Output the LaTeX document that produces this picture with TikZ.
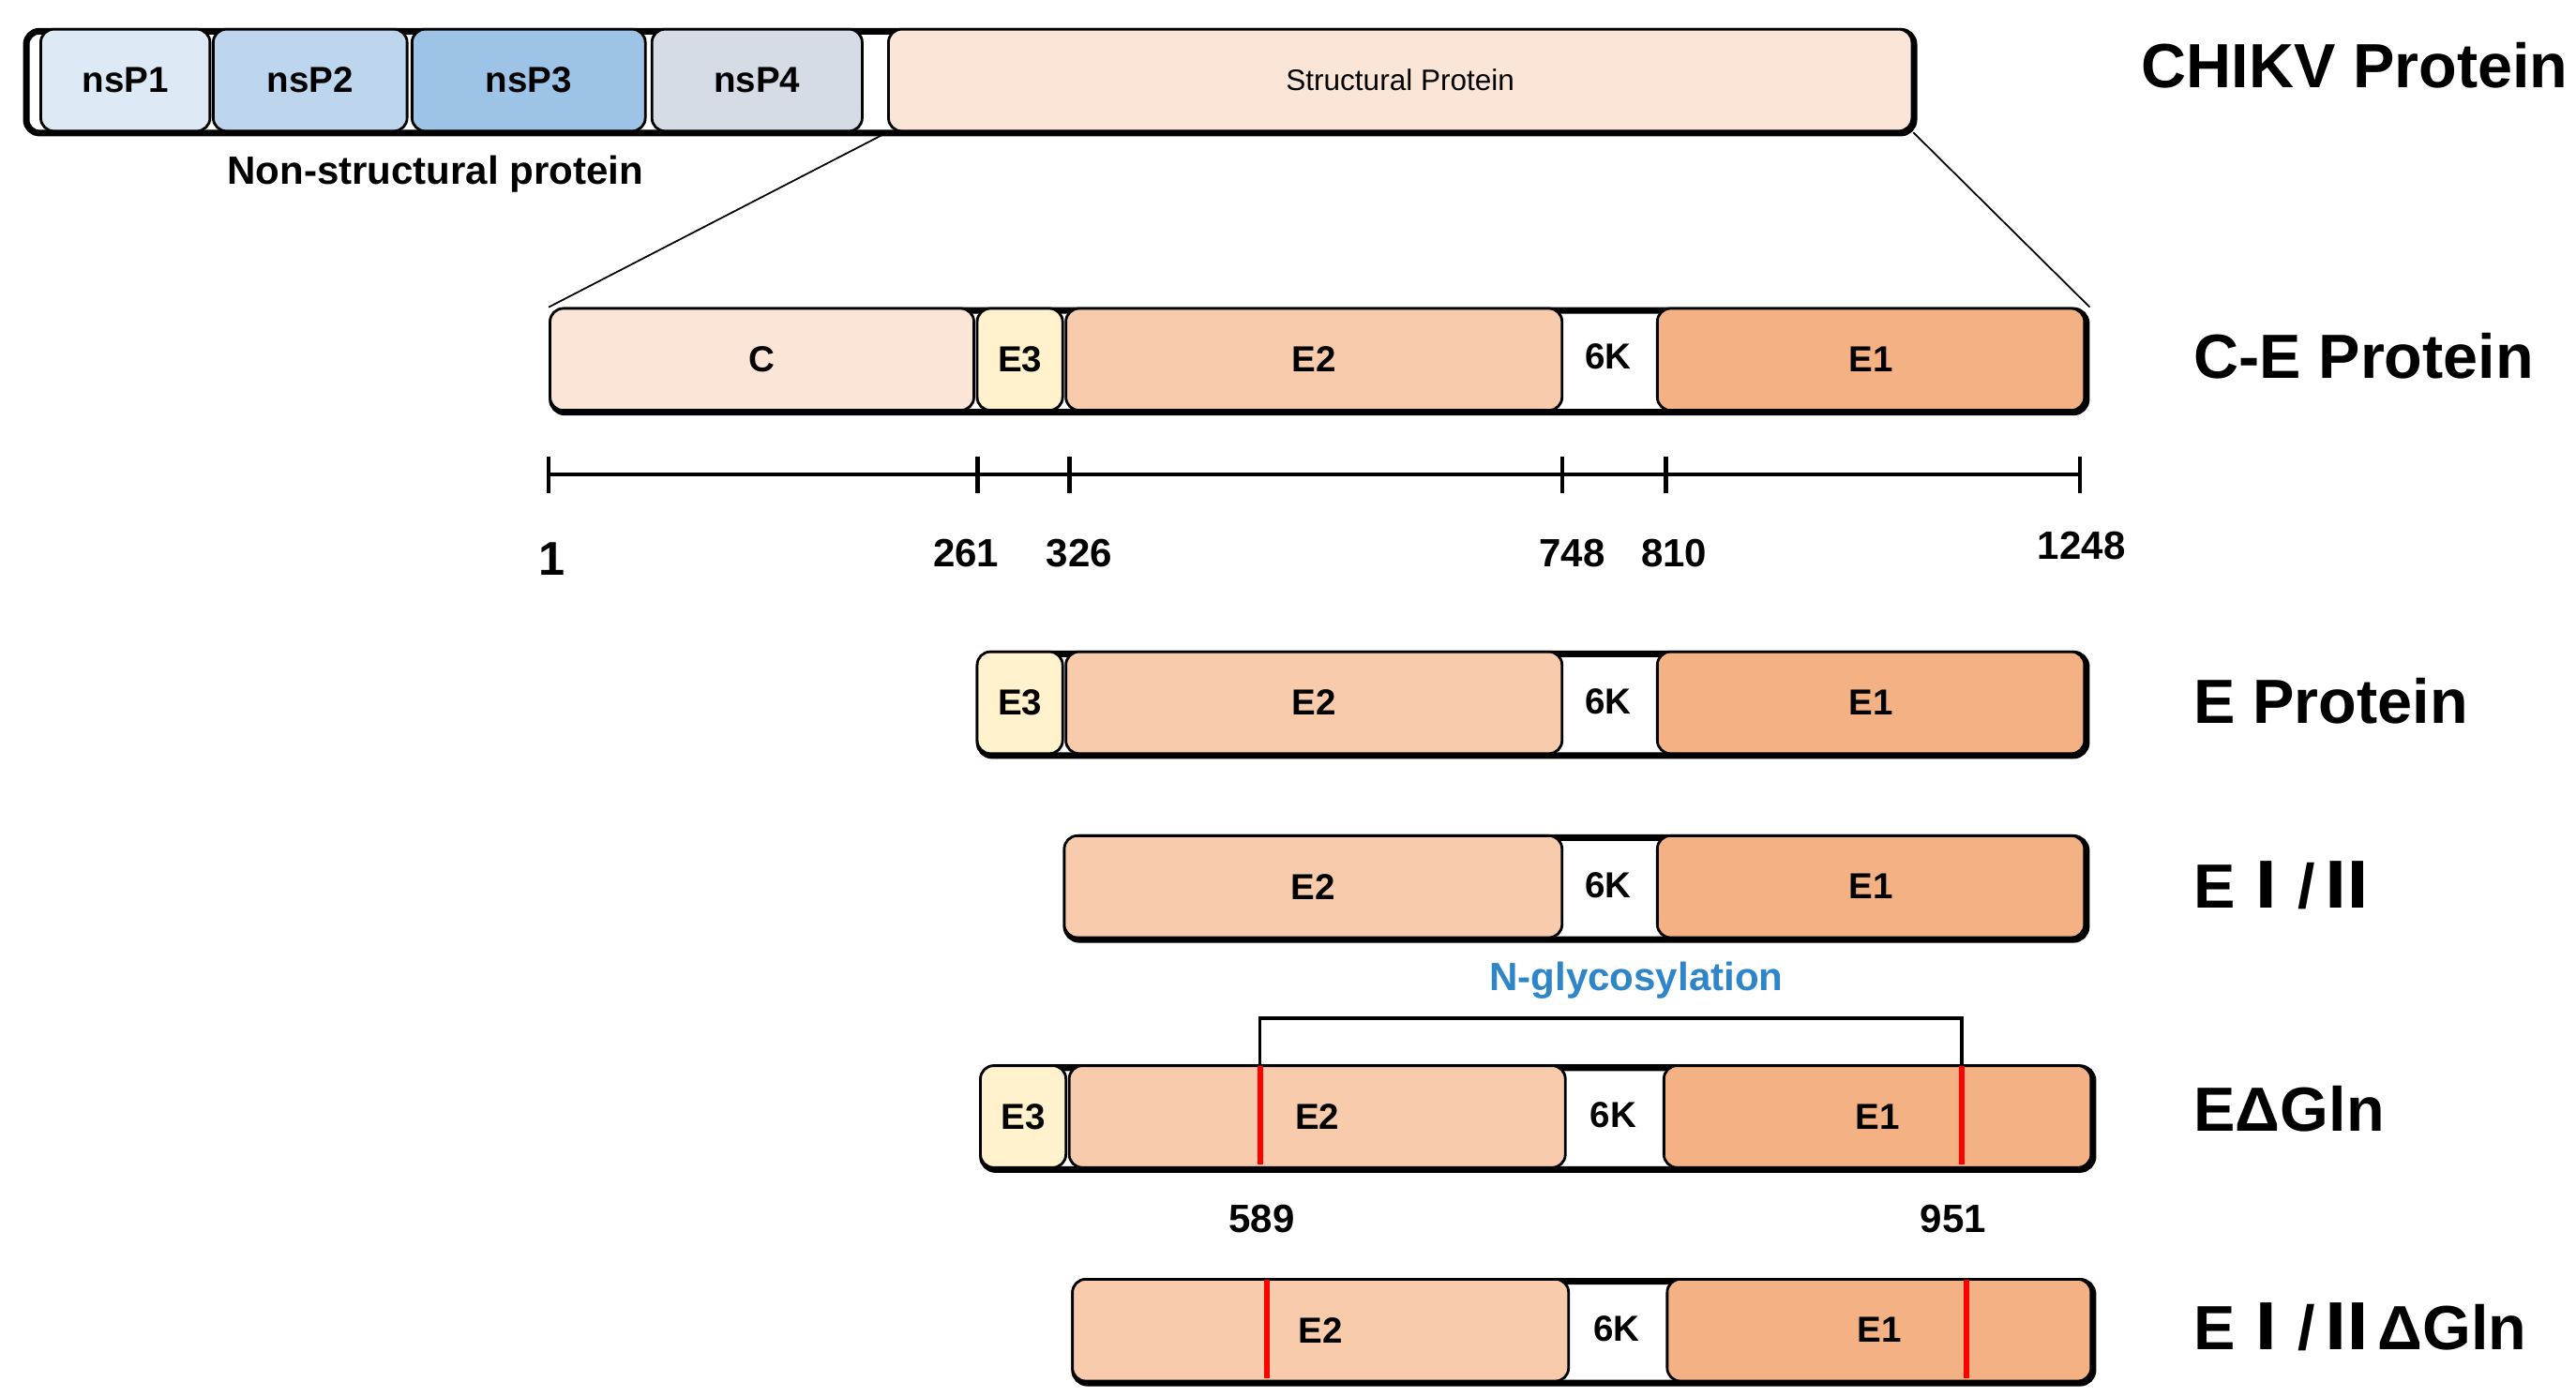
\documentclass[tikz,border=0pt]{standalone}
\usepackage{fontspec}
\setmainfont{Liberation Sans}
\newfontfamily\cjk{Noto Sans CJK KR}
\usepackage{tikz}
\usetikzlibrary{positioning}
\definecolor{nsa}{HTML}{DDEAF6}
\definecolor{nsb}{HTML}{BDD6EE}
\definecolor{nsc}{HTML}{9DC3E6}
\definecolor{nsd}{HTML}{D6DCE5}
\definecolor{cpe}{HTML}{FBE5D6}
\definecolor{ethree}{HTML}{FFF2CC}
\definecolor{etwo}{HTML}{F8CBAD}
\definecolor{eone}{HTML}{F4B183}
\definecolor{glyc}{HTML}{2E86C8}
\tikzset{
	bar/.style={draw,line width=2pt,rounded corners=4pt,fill=white,minimum height=31pt,inner sep=0pt,anchor=north west},
	seg/.style={draw,line width=0.8pt,rounded corners=4pt,minimum height=31pt,inner sep=0pt,anchor=north west,font=\bfseries\fontsize{11}{12}\selectfont},
	lab/.style={font=\bfseries\fontsize{19}{21}\selectfont,anchor=west,inner sep=0pt},
	num/.style={font=\bfseries\large},
	glyline/.style={red,line width=1.6pt}
}
\newcommand\seg[6]{\node[seg,fill=#5,minimum width={(#3-(#2))*0.5pt}] (#1) at (#2,#4) {#6};}
\newcommand\pbar[4]{\node[bar,minimum width={(#3-(#2))*0.5pt}] (#1) at (#2,#4) {};}
\begin{document}
\begin{tikzpicture}[x=0.5pt,y=-0.5pt]
	\useasboundingbox (0,0) rectangle (1568,850);
	% polyprotein
	\pbar{poly}{14}{1163}{17}
	\seg{nsa}{24}{127}{17}{nsa}{nsP1}
	\seg{nsb}{129}{247}{17}{nsb}{nsP2}
	\seg{nsc}{250}{392}{17}{nsc}{nsP3}
	\seg{nsd}{396}{524}{17}{nsd}{nsP4}
	\seg{sp}{540}{1163}{17}{cpe}{\mdseries\small Structural Protein}
	\node[font=\bfseries\large] (nsl) at (265,106) {Non-structural protein};
	\node[lab] (l1) at (1303,40) {CHIKV Protein};
	% C-E
	\pbar{ce}{334}{1268}{187}
	\seg{c}{334}{592}{187}{cpe}{C}
	\seg{ce3}{594}{646}{187}{ethree}{E3}
	\seg{ce2}{648}{950}{187}{etwo}{E2}
	\node[font=\bfseries\fontsize{11}{12}\selectfont] (c6) at (979,217) {6K};
	\seg{ce1}{1008}{1268}{187}{eone}{E1}
	\node[lab] (l2) at (1335,217) {C-E Protein};
	\draw[line width=0.5pt] (sp.south west) -- (ce.north west);
	\draw[line width=0.5pt] (sp.south east) -- (ce.north east);
	% scale
	\draw[line width=1.2pt] (334,289) -- (1266,289);
	\foreach \x/\t/\dx in {595/261/-7,651/326/6,951/748/6,1014/810/5} {
		\draw[line width=1.2pt] (\x,278) -- (\x,300);
		\node[num] at (\x+\dx,337) {\t};
	}
	\draw[line width=1.2pt] (334,278) -- (334,300);
	\draw[line width=1.2pt] (1266,278) -- (1266,300);
	\node[num,font=\bfseries\Large] at (336,340) {1};
	\node[num] at (1267,332) {1248};
	% E
	\pbar{e}{594}{1268}{396}
	\seg{ee3}{594}{646}{396}{ethree}{E3}
	\seg{ee2}{648}{950}{396}{etwo}{E2}
	\node[font=\bfseries\fontsize{11}{12}\selectfont] (e6) at (979,427) {6K};
	\seg{ee1}{1008}{1268}{396}{eone}{E1}
	\node[lab] (l3) at (1335,427) {E Protein};
	% E I/II
	\pbar{f}{647}{1268}{508}
	\seg{fe2}{647}{950}{508}{etwo}{E2}
	\node[font=\bfseries\fontsize{11}{12}\selectfont] (f6) at (979,539) {6K};
	\seg{fe1}{1008}{1268}{508}{eone}{E1}
	\node[lab] (l4) at (1335,539) {E{\cjk\bfseries Ⅰ}/{\cjk\bfseries Ⅱ}};
	% E dGln
	\node[font=\bfseries\large,text=glyc] (ng) at (996,597) {N-glycosylation};
	\draw[line width=1pt] (767,648) -- (767,620) -- (1194,620) -- (1194,648);
	\pbar{g}{596}{1272}{648}
	\seg{ge3}{596}{648}{648}{ethree}{E3}
	\seg{ge2}{650}{952}{648}{etwo}{E2}
	\node[font=\bfseries\fontsize{11}{12}\selectfont] (g6) at (982,679) {6K};
	\seg{ge1}{1012}{1272}{648}{eone}{E1}
	\draw[glyline] (767,649) -- (767,709);
	\draw[glyline] (1194,649) -- (1194,709);
	\node[num] at (768,742) {589};
	\node[num] at (1189,742) {951};
	\node[lab] (l5) at (1335,675) {EΔGln};
	% E I/II dGln
	\pbar{h}{652}{1272}{778}
	\seg{he2}{652}{954}{778}{etwo}{E2}
	\node[font=\bfseries\fontsize{11}{12}\selectfont] (h6) at (984,809) {6K};
	\seg{he1}{1014}{1272}{778}{eone}{E1}
	\draw[glyline] (771,779) -- (771,839);
	\draw[glyline] (1197,779) -- (1197,839);
	\node[lab] (l6) at (1335,808) {E{\cjk\bfseries Ⅰ}/{\cjk\bfseries Ⅱ}ΔGln};
\end{tikzpicture}
\end{document}
